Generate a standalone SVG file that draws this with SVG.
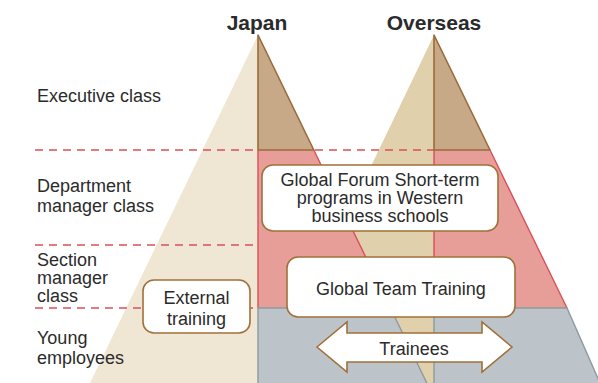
<svg xmlns="http://www.w3.org/2000/svg" width="598" height="383" viewBox="0 0 598 383">
<style>
text{font-family:"Liberation Sans",Arial,sans-serif;fill:#2b2b2b;font-size:18px}
.hd{font-size:21px;font-weight:bold;text-anchor:middle}
.c{text-anchor:middle}
.box{fill:#fff;stroke:#a0703a;stroke-width:1.6}
.dash{stroke:#d9505a;stroke-width:1.6;stroke-dasharray:8 6;fill:none}
.bl{stroke:#9b6b3b;stroke-width:1.6;fill:none;stroke-linejoin:round}
.rl{stroke:#d9505a;stroke-width:1.4;fill:none}
.gl{stroke:#8d9aa1;stroke-width:1.4;fill:none}
</style>
<rect width="598" height="383" fill="#fff"/>
<g id="pyramids">
<polygon points="258,35 258,383 90,383" fill="#f0e6d4"/>
<polygon points="434,35 434,383 267,383" fill="#e0d0ac"/>
<line class="dash" x1="35" y1="150" x2="434" y2="150"/>
<line class="dash" x1="35" y1="245" x2="258" y2="245"/>
<line class="dash" x1="35" y1="308" x2="258" y2="308"/>
<polygon points="258,35 313.8,150 258,150" fill="#c7a987"/>
<polygon points="258,150 313.8,150 390.4,308 258,308" fill="#e89e98"/>
<polygon points="258,308 390.4,308 426.8,383 258,383" fill="#bcc4c9"/>
<polygon points="434,35 490,150 434,150" fill="#c7a987"/>
<polygon points="434,150 490,150 567,308 434,308" fill="#e89e98"/>
<polygon points="434,308 567,308 600,383 434,383" fill="#bcc4c9"/>
<path class="rl" d="M258,150V308M313.8,150L390.4,308M434,150V308M490,150L567,308"/>
<path class="gl" d="M258,308V383M258,308H390.4L426.8,383M434,308V383M434,308H567L600,383"/>
<polygon class="bl" points="258,35 313.8,150 258,150"/>
<polygon class="bl" points="434,35 490,150 434,150"/>
</g>
<g id="headers">
<text class="hd" x="257" y="30">Japan</text>
<text class="hd" x="434" y="30">Overseas</text>
</g>
<g id="labels">
<text x="37" y="101.5">Executive class</text>
<text x="37" y="192">Department</text>
<text x="37" y="212">manager class</text>
<text x="37" y="266">Section</text>
<text x="37" y="284">manager</text>
<text x="37" y="302">class</text>
<text x="37" y="344">Young</text>
<text x="37" y="364">employees</text>
</g>
<g id="global-forum">
<rect class="box" x="262" y="165" width="236" height="66" rx="11"/>
<text class="c" x="380" y="185.5">Global Forum Short-term</text>
<text class="c" x="380" y="204">programs in Western</text>
<text class="c" x="380" y="222">business schools</text>
</g>
<g id="global-team-training">
<rect class="box" x="287" y="257" width="228" height="60" rx="11"/>
<text class="c" x="401" y="295">Global Team Training</text>
</g>
<g id="external-training">
<rect class="box" x="143" y="280" width="107" height="53" rx="11"/>
<text class="c" x="196.5" y="304">External</text>
<text class="c" x="196.5" y="325">training</text>
</g>
<g id="connectors">
<g id="trainees">
<polygon class="box" points="317,347 347,322 347,333 482,333 482,322 512,347 482,372 482,362 347,362 347,372"/>
<text class="c" x="414" y="355">Trainees</text>
</g>
</g>
</svg>
